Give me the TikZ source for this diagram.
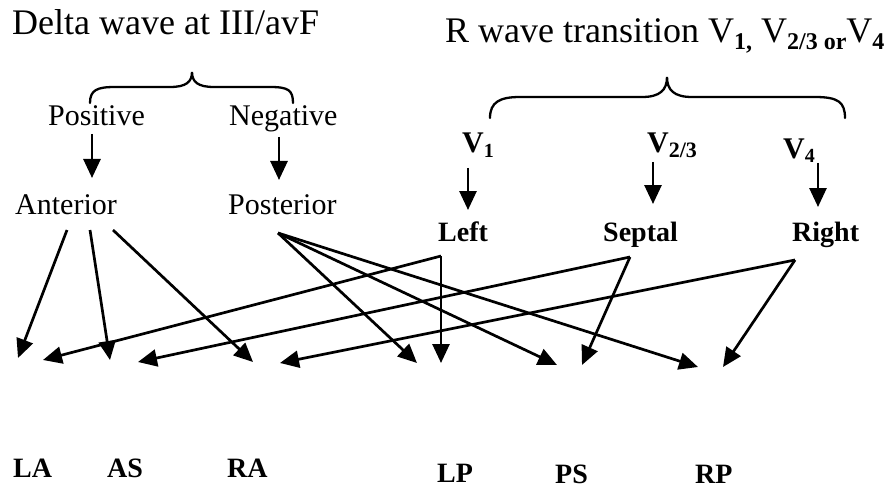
\documentclass[tikz,border=0pt]{standalone}
\usepackage{fontspec}
\setmainfont{Liberation Serif}
\usetikzlibrary{arrows.meta}
\newcommand\lowsub[3]{\raisebox{-#1pt}{\fontsize{#2}{#2}\selectfont\bfseries #3}}
\begin{document}
\begin{tikzpicture}[x=1pt,y=-1pt,
  lbl/.style={inner sep=0pt, anchor=base west},
  ttl/.style={lbl, font=\fontsize{36}{40}\selectfont},
  midlbl/.style={lbl, font=\fontsize{30}{34}\selectfont},
  blbl/.style={lbl, font=\fontsize{28}{32}\selectfont\bfseries},
  vlbl/.style={lbl, font=\fontsize{30}{34}\selectfont\bfseries},
  arr/.style={line width=2.7pt, -{Triangle[length=19pt,width=17pt]}},
  brc/.style={line width=2.3pt, line cap=round}]
\useasboundingbox (0,0) rectangle (889,492);
% titles
\node[ttl] (delta) at (12,35) {Delta wave at III/avF};
\node[ttl] (rwave) at (445,43) {R wave transition V\lowsub{7}{24}{1,} V\lowsub{7}{24}{2/3 or}V\lowsub{7}{24}{4}};
% braces
\coordinate (b1l) at (90,103); \coordinate (b1r) at (293,103); \coordinate (b1t) at (192,72);
\draw[brc] (b1l) .. controls (90,90) and (97,87) .. (115,87) -- (170,87)
  .. controls (186,87) and (192,82) .. (b1t) .. controls (192,82) and (198,87) .. (214,87)
  -- (270,87) .. controls (288,87) and (293,90) .. (b1r);
\coordinate (b2l) at (490,118); \coordinate (b2r) at (845,118); \coordinate (b2t) at (667,77);
\draw[brc] (b2l) .. controls (490,102) and (500,97) .. (520,97) -- (642,97)
  .. controls (660,97) and (667,90) .. (b2t) .. controls (667,90) and (674,97) .. (692,97)
  -- (815,97) .. controls (838,97) and (845,102) .. (b2r);
% level 1
\node[midlbl] (pos) at (48,126) {Positive};
\node[midlbl] (neg) at (229,126) {Negative};
\node[midlbl] (ant) at (15,214) {Anterior};
\node[midlbl] (post) at (228,214) {Posterior};
\node[vlbl] (v1) at (462,153) {V\lowsub{5}{20}{1}};
\node[vlbl] (v23) at (647,153) {V\lowsub{5}{22}{2/3}};
\node[vlbl] (v4) at (783,158) {V\lowsub{5}{20}{4}};
\node[blbl] (left) at (438,241) {Left};
\node[blbl] (sept) at (603,241) {Septal};
\node[blbl] (right) at (792,241) {Right};
% bottom labels
\node[blbl] (LA) at (13,477) {LA};
\node[blbl] (AS) at (107,477) {AS};
\node[blbl] (RA) at (227,477) {RA};
\node[blbl] (LP) at (437,482) {LP};
\node[blbl] (PS) at (555,483) {PS};
\node[blbl] (RP) at (695,483) {RP};
% vertical arrows
\coordinate (pos-o) at (92,134); \coordinate (ant-i) at (92,178);
\coordinate (neg-o) at (279,137); \coordinate (post-i) at (279,180);
\coordinate (v1-o) at (468,168); \coordinate (left-i) at (468,210);
\coordinate (v23-o) at (653,162); \coordinate (sept-i) at (653,204);
\coordinate (v4-o) at (818,163); \coordinate (right-i) at (818,207);
\draw[arr] (pos-o) -- (ant-i);
\draw[arr] (neg-o) -- (post-i);
\draw[arr] (v1-o) -- (left-i);
\draw[arr] (v23-o) -- (sept-i);
\draw[arr] (v4-o) -- (right-i);
% junction points
\coordinate (ant-o1) at (67,230); \coordinate (ant-o2) at (90,230); \coordinate (ant-o3) at (113,230);
\coordinate (post-o) at (278,233);
\coordinate (left-o) at (441,256);
\coordinate (sept-o) at (630,257);
\coordinate (right-o) at (795,260);
% target tips
\coordinate (LA-1) at (18,358); \coordinate (LA-2) at (43,360);
\coordinate (AS-1) at (110,360); \coordinate (AS-2) at (138,362);
\coordinate (RA-1) at (253,362); \coordinate (RA-2) at (280,363);
\coordinate (LP-1) at (417,363); \coordinate (LP-2) at (441,363);
\coordinate (PS-1) at (557,365); \coordinate (PS-2) at (582,365);
\coordinate (RP-1) at (698,367); \coordinate (RP-2) at (723,367);
% diagonal arrows
\draw[arr] (ant-o1) -- (LA-1);
\draw[arr] (ant-o2) -- (AS-1);
\draw[arr] (ant-o3) -- (RA-1);
\draw[arr] (post-o) -- (LP-1);
\draw[arr] (post-o) -- (PS-1);
\draw[arr] (post-o) -- (RP-1);
\draw[arr] (left-o) -- (LP-2);
\draw[arr] (left-o) -- (LA-2);
\draw[arr] (sept-o) -- (PS-2);
\draw[arr] (sept-o) -- (AS-2);
\draw[arr] (right-o) -- (RP-2);
\draw[arr] (right-o) -- (RA-2);
\end{tikzpicture}
\end{document}
